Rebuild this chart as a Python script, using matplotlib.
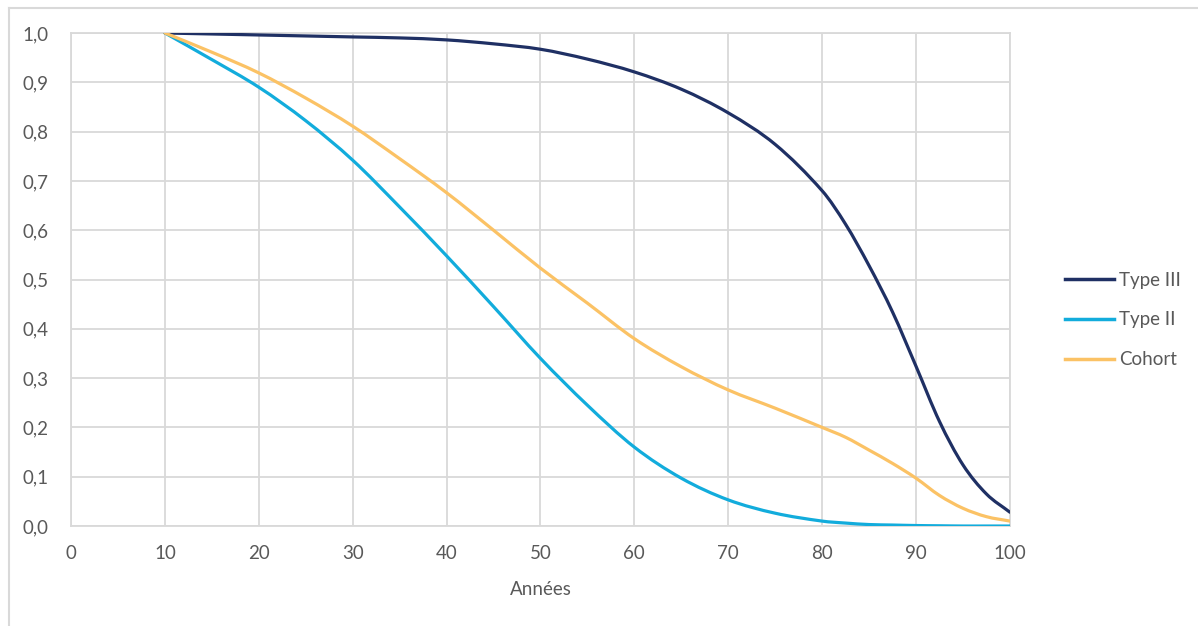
import numpy as np
import matplotlib
matplotlib.use("Agg")
import matplotlib.pyplot as plt
from matplotlib.path import Path
from matplotlib.patches import PathPatch
from matplotlib.lines import Line2D
from matplotlib.ticker import FuncFormatter, MultipleLocator

# Survival curves (share of survivors by age)
ages = [10, 15, 20, 25, 30, 35, 40, 45, 50, 55, 60, 65, 70, 75,
        80, 82.5, 85, 87.5, 90, 92.5, 95, 97.5, 100]
type_iii = [1.000, 0.998, 0.996, 0.994, 0.992, 0.990, 0.986, 0.978, 0.967, 0.947,
            0.921, 0.886, 0.838, 0.774,
            0.680, 0.612, 0.528, 0.434, 0.324, 0.212, 0.124, 0.065, 0.028]
type_ii = [1.000, 0.946, 0.890, 0.822, 0.742, 0.647, 0.548, 0.445, 0.340, 0.245,
           0.160, 0.097, 0.053, 0.026,
           0.010, 0.006, 0.003, 0.002, 0.001, 0.0005, 0.000, 0.000, 0.000]
cohort = [1.000, 0.961, 0.919, 0.868, 0.811, 0.745, 0.676, 0.600, 0.523, 0.452,
          0.380, 0.323, 0.276, 0.239,
          0.200, 0.180, 0.154, 0.127, 0.097, 0.062, 0.036, 0.019, 0.010]

series_names = ["Type III", "Type II", "Cohort"]
series_colors = ["#1F3064", "#12ACDC", "#FBC265"]

text_color = "#595959"
grid_color = "#D9D9D9"

plt.rcParams["font.family"] = ["Lato", "DejaVu Sans"]
FS = 13.5


def smooth_path(xs, ys):
    """Catmull-Rom style smoothed path through the points (like spreadsheet smoothing)."""
    pts = np.column_stack([xs, ys]).astype(float)
    n = len(pts)
    verts = [pts[0]]
    codes = [Path.MOVETO]
    for i in range(n - 1):
        p0 = pts[i - 1] if i > 0 else pts[i]
        p1 = pts[i]
        p2 = pts[i + 1]
        p3 = pts[i + 2] if i + 2 < n else pts[i + 1]
        h = p2[0] - p1[0]
        # tangents scaled to the local step so uneven spacing stays smooth
        t1 = (p2 - p0) / (p2[0] - p0[0]) * h if p2[0] != p0[0] else (p2 - p1)
        t2 = (p3 - p1) / (p3[0] - p1[0]) * h if p3[0] != p1[0] else (p2 - p1)
        c1 = p1 + t1 / 3.0
        c2 = p2 - t2 / 3.0
        verts += [c1, c2, p2]
        codes += [Path.CURVE4] * 3
    return Path(verts, codes)


fig = plt.figure(figsize=(11.98, 6.26), dpi=100)
ax = fig.add_axes([0.0593, 0.1597, 0.7837, 0.7876])

for vals, col in zip([type_iii, type_ii, cohort], series_colors):
    patch = PathPatch(smooth_path(ages, vals), facecolor="none", edgecolor=col,
                      linewidth=2.3, capstyle="round", joinstyle="round", zorder=3)
    ax.add_patch(patch)

ax.set_xlim(0, 100)
ax.set_ylim(0, 1.0)
ax.xaxis.set_major_locator(MultipleLocator(10))
ax.yaxis.set_major_locator(MultipleLocator(0.1))
ax.yaxis.set_major_formatter(FuncFormatter(lambda v, p: f"{v:.1f}".replace(".", ",")))
ax.grid(True, color=grid_color, linewidth=1.3, zorder=0)
ax.set_axisbelow(True)
for s in ax.spines.values():
    s.set_color(grid_color)
    s.set_linewidth(1.3)
ax.tick_params(length=0, labelsize=FS, colors=text_color)
ax.tick_params(axis="x", pad=14)
ax.tick_params(axis="y", pad=16)
ax.set_xlabel("Années", fontsize=FS, color=text_color, labelpad=13)

handles = [Line2D([], [], color=c, linewidth=2.5) for c in series_colors]
ax.legend(handles, series_names, loc="center left", bbox_to_anchor=(1.041, 0.418),
          frameon=False, fontsize=FS, labelcolor=text_color, handlelength=2.6,
          handletextpad=0.25, labelspacing=1.22)

# outer chart frame
fig.add_artist(Line2D([0.0075, 1.0], [1 - 8 / 626, 1 - 8 / 626], transform=fig.transFigure,
                      color=grid_color, linewidth=1.5))
fig.add_artist(Line2D([0.0075, 0.0075], [0.0, 1 - 8 / 626], transform=fig.transFigure,
                      color=grid_color, linewidth=1.5))

fig.savefig("out.png", dpi=100, facecolor="white")
